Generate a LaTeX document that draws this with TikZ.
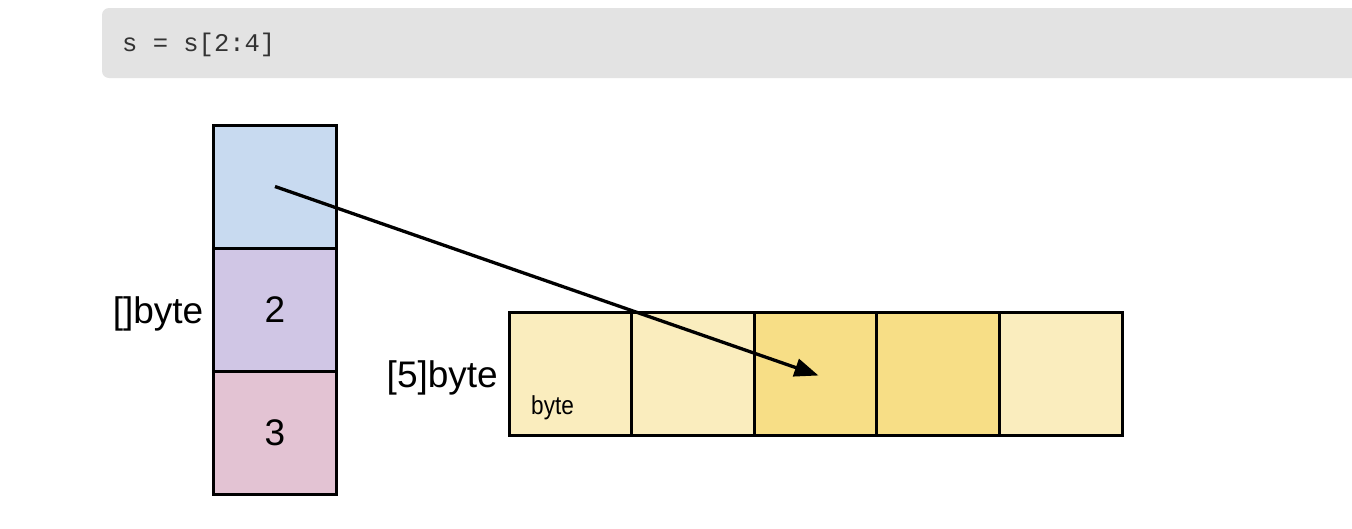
\documentclass[tikz,border=0pt]{standalone}
\usepackage{fontspec}
\setmainfont{Liberation Sans}
\setmonofont{Liberation Mono}
\newfontfamily\narrowsans[FakeStretch=0.87]{Liberation Sans}
\usepackage{tikz}
\usepackage{xcolor}
\usetikzlibrary{arrows.meta,positioning,calc}
\definecolor{codebg}{HTML}{E3E3E3}
\definecolor{codeink}{HTML}{333333}
\definecolor{ptrblue}{HTML}{C8DAF0}
\definecolor{lenpurple}{HTML}{D0C6E5}
\definecolor{cappink}{HTML}{E3C3D3}
\definecolor{bytepale}{HTML}{FAEDBE}
\definecolor{bytegold}{HTML}{F7DE86}

\tikzset{
  cell/.style={draw=black,line width=3pt,minimum width=123pt,minimum height=123pt,
               inner sep=0pt,outer sep=0pt,font=\fontsize{37}{37}\selectfont},
  bytecell/.style={cell,minimum width=122.6pt},
  typelabel/.style={font=\fontsize{37}{37}\selectfont,inner sep=0pt,yshift=-4pt},
}

\begin{document}
\begin{tikzpicture}[x=1pt,y=-1pt]
 \useasboundingbox (0,0) rectangle (1352,528);
 % code line
 \fill[codebg,rounded corners=7pt] (102,8) rectangle (1380,78);
 \node[anchor=west,text=codeink,inner sep=0pt,font=\ttfamily\fontsize{25.5}{25.5}\selectfont]
   (code) at (122,45) {s = s[2:4]};
 % slice header
 \node[cell,fill=ptrblue] (ptr) at (275,186.5) {};
 \node[cell,fill=lenpurple,below=0pt of ptr] (len) {2};
 \node[cell,fill=cappink,below=0pt of len] (cap) {3};
 \node[typelabel,left=10pt of len] (slicetype) {[]byte};
 % underlying array
 \node[bytecell,fill=bytepale] (b0) at (570.3,373.5) {};
 \node[bytecell,fill=bytepale,right=0pt of b0] (b1) {};
 \node[bytecell,fill=bytegold,right=0pt of b1] (b2) {};
 \node[bytecell,fill=bytegold,right=0pt of b2] (b3) {};
 \node[bytecell,fill=bytepale,right=0pt of b3] (b4) {};
 \node[typelabel,left=11pt of b0] (arraytype) {[5]byte};
 \node[anchor=base west,inner sep=0pt,font=\narrowsans\fontsize{26}{26}\selectfont]
   (elemtype) at ($(b0.south west)+(22,-21)$) {byte};
 % pointer
 \draw[line width=3.3pt,-{Triangle[length=24pt,width=18pt]}] (ptr.center) -- ($(b2.center)+(3,2)$);
\end{tikzpicture}
\end{document}
